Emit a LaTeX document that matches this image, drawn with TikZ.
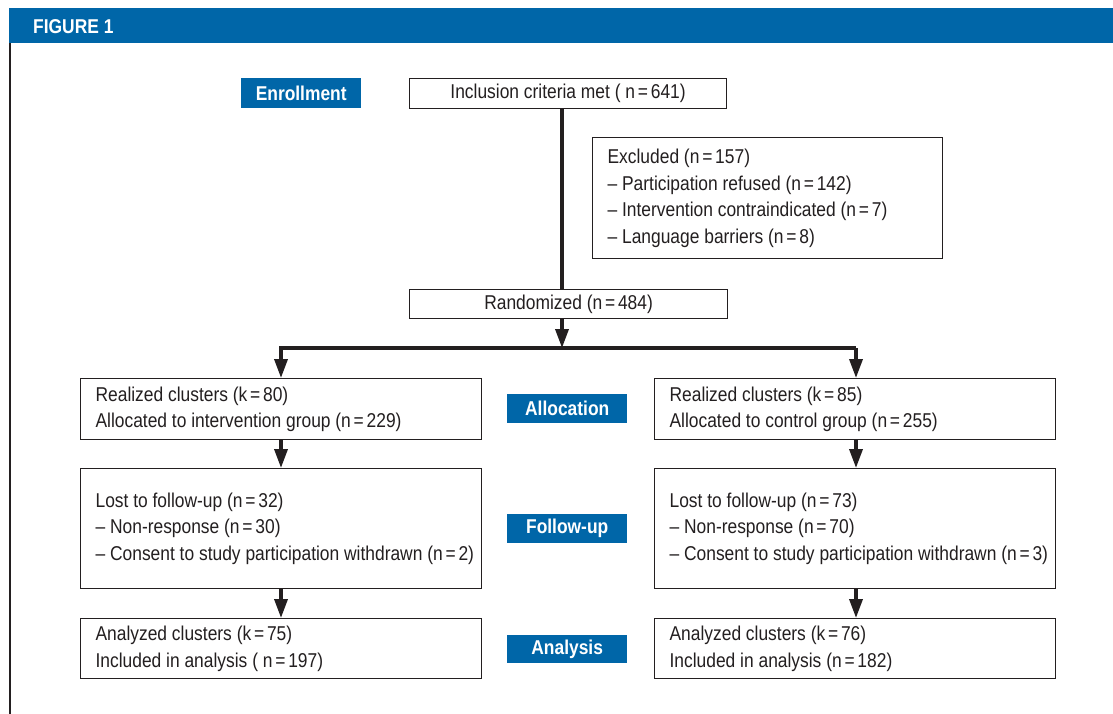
\documentclass[tikz,border=0pt]{standalone}
\usepackage{fontspec}
\setmainfont{Liberation Sans}[FakeStretch=0.87]
\usetikzlibrary{arrows.meta}
\definecolor{hdrblue}{RGB}{0,102,168}
\definecolor{ink}{RGB}{35,31,32}
\newcommand{\eqs}{\hspace{0.14em}=\hspace{0.14em}}
\begin{document}
\begin{tikzpicture}[x=1pt,y=-1pt,
  box/.style={draw=ink, line width=1.2pt, inner ysep=0pt, anchor=north west,
    font=\fontsize{20}{26.5}\selectfont, text=ink},
  cbox/.style={box, inner xsep=0pt, align=center},
  lbox/.style={box, inner xsep=15pt, align=flush left},
  tag/.style={fill=hdrblue, text=white, inner sep=0pt, anchor=north west,
    font=\fontsize{20}{22}\selectfont\bfseries, minimum width=120pt},
  conn/.style={draw=ink, line width=3.5pt},
  arr/.style={conn, -{Triangle[width=13pt,length=19pt]}}]
\useasboundingbox (0,0) rectangle (1113,714);
\fill[white] (0,0) rectangle (1113,714);
% header
\fill[hdrblue] (9,8) rectangle (1113,43);
\node[anchor=west, text=white, inner sep=0pt, font=\fontsize{20}{22}\selectfont\bfseries] (fig) at (33,26.5) {FIGURE 1};
\draw[ink, line width=2pt] (10,43) -- (10,714);
% stage tags
\node[tag, minimum height=30pt] (tEnr) at (241,78) {Enrollment};
\node[tag, minimum height=29pt] (tAll) at (507,394) {Allocation};
\node[tag, minimum height=29pt] (tFol) at (507,514) {Follow-up};
\node[tag, minimum height=28pt] (tAna) at (507,635) {Analysis};
% boxes
\node[cbox, minimum width=317pt, minimum height=30pt] (incl) at (409,78) {Inclusion criteria met ( n\eqs641)};
\node[lbox, minimum width=350pt, minimum height=121pt, text width=320pt] (excl) at (592,137)
  {Excluded (n\eqs157)\\ – Participation refused (n\eqs142)\\ – Intervention contraindicated (n\eqs7)\\ – Language barriers (n\eqs8)};
\node[cbox, minimum width=318pt, minimum height=29pt] (rand) at (409,289) {Randomized (n\eqs484)};
\node[lbox, minimum width=401pt, minimum height=61pt, text width=371pt] (allL) at (80,378)
  {Realized clusters (k\eqs80)\\ Allocated to intervention group (n\eqs229)};
\node[lbox, minimum width=401pt, minimum height=61pt, text width=371pt] (allR) at (654,378)
  {Realized clusters (k\eqs85)\\ Allocated to control group (n\eqs255)};
\node[lbox, minimum width=401pt, minimum height=120pt, text width=371pt] (folL) at (80,468)
  {Lost to follow-up (n\eqs32)\\ – Non-response (n\eqs30)\\ \mbox{– Consent to study participation withdrawn (n\eqs2)}};
\node[lbox, minimum width=401pt, minimum height=120pt, text width=371pt] (folR) at (654,468)
  {Lost to follow-up (n\eqs73)\\ – Non-response (n\eqs70)\\ \mbox{– Consent to study participation withdrawn (n\eqs3)}};
\node[lbox, minimum width=401pt, minimum height=60pt, text width=371pt] (anaL) at (80,618)
  {Analyzed clusters (k\eqs75)\\ Included in analysis ( n\eqs197)};
\node[lbox, minimum width=401pt, minimum height=60pt, text width=371pt] (anaR) at (654,618)
  {Analyzed clusters (k\eqs76)\\ Included in analysis (n\eqs182)};
% connector guides
\coordinate (trunk) at (562,0);
\coordinate (split) at (562,348);
\coordinate (colL) at (281,0);
\coordinate (colR) at (856,0);
% connectors
\draw[conn] (incl.south -| trunk) -- (rand.north -| trunk);
\draw[arr] (rand.south -| trunk) -- (split);
\draw[arr] (split -| colR) -- (split -| colL) -- (allL.north -| colL);
\draw[arr] (split -| colR) -- (allR.north -| colR);
\draw[arr] (allL.south -| colL) -- (folL.north -| colL);
\draw[arr] (allR.south -| colR) -- (folR.north -| colR);
\draw[arr] (folL.south -| colL) -- (anaL.north -| colL);
\draw[arr] (folR.south -| colR) -- (anaR.north -| colR);
\end{tikzpicture}
\end{document}
